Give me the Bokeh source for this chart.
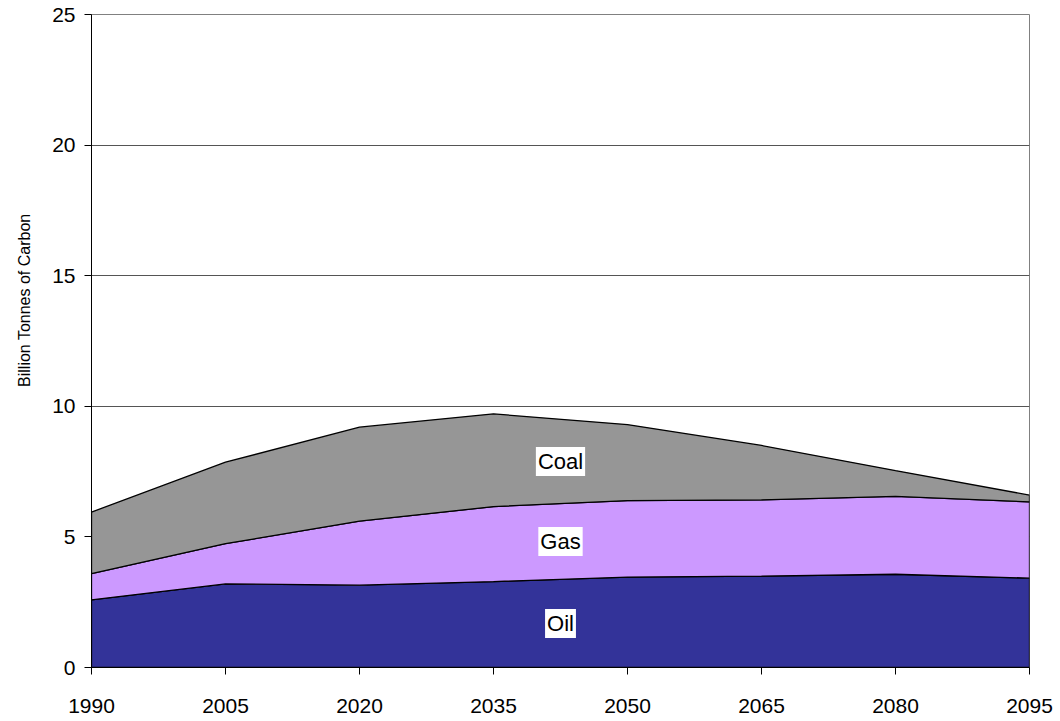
import numpy as np
from bokeh.plotting import figure
from bokeh.models import Label, Range1d, FixedTicker, Title
from bokeh.embed import file_html
from bokeh.resources import INLINE

years = [1990, 2005, 2020, 2035, 2050, 2065, 2080, 2095]
oil = [2.59, 3.20, 3.15, 3.29, 3.46, 3.50, 3.57, 3.42]
gas = [1.00, 1.54, 2.45, 2.87, 2.93, 2.92, 2.98, 2.92]
coal = [2.36, 3.12, 3.60, 3.55, 2.91, 2.08, 0.99, 0.26]
series_names = ["Oil", "Gas", "Coal"]
series_colors = ["#333399", "#CC99FF", "#969696"]
y_ticks = [0, 5, 10, 15, 20, 25]
label_year = 2042.5

FONT = "Liberation Sans"

p = figure(width=1060, height=720, output_backend="svg", toolbar_location=None,
           x_range=Range1d(1990, 2095), y_range=Range1d(0, 25),
           min_border_left=91, min_border_top=14, min_border_right=31, min_border_bottom=53)

x = np.array(years, dtype=float)
base = np.zeros(len(years))
layers = []
for vals, name, col in zip([oil, gas, coal], series_names, series_colors):
    top = base + np.array(vals)
    xs = list(x) + list(x[::-1])
    ys = list(top) + list(base[::-1])
    p.patch(xs, ys, fill_color=col, line_color="black", line_width=1.3)
    layers.append((name, base.copy(), top.copy()))
    base = top

for name, lo, hi in layers:
    ymid = (np.interp(label_year, x, lo) + np.interp(label_year, x, hi)) / 2
    p.add_layout(Label(x=label_year, y=ymid, text=name, text_align="center",
                       text_baseline="middle", text_font=FONT, text_font_size="22px",
                       text_color="black", background_fill_color="white", padding=2))

# axis title, placed a bit above the frame centre as in the original
p.add_layout(Title(text="Billion Tonnes of Carbon", align="right", offset=199,
                   vertical_align="top",
                   text_font=FONT, text_font_size="16px", text_font_style="normal",
                   text_color="black", standoff=30), "left")

p.xaxis.ticker = FixedTicker(ticks=years)
p.yaxis.ticker = FixedTicker(ticks=y_ticks)
for ax in (p.xaxis[0], p.yaxis[0]):
    ax.axis_line_color = "black"
    ax.axis_line_width = 1
    ax.major_tick_line_color = "black"
    ax.major_tick_in = 0
    ax.major_tick_out = 7
    ax.minor_tick_line_color = None
    ax.major_label_text_font = FONT
    ax.major_label_text_font_size = "21px"
    ax.major_label_text_color = "black"
p.xaxis.major_label_standoff = 24
p.yaxis.major_label_standoff = 9

p.xgrid.grid_line_color = None
p.ygrid.grid_line_color = "#555555"
p.ygrid.grid_line_width = 1
p.outline_line_color = "#808080"
p.background_fill_color = "white"
p.border_fill_color = "white"

open("out.html", "w").write(file_html(p, INLINE))
